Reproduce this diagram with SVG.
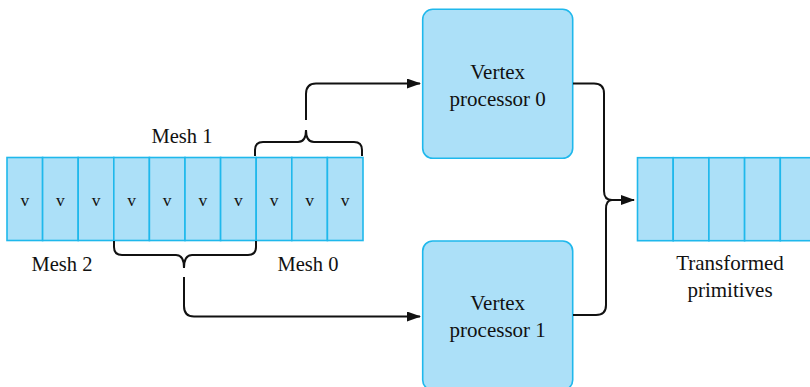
<svg xmlns="http://www.w3.org/2000/svg" width="810" height="387" viewBox="0 0 810 387">
<style>
.cell{fill:#ace0f8;stroke:#1fb8ec;stroke-width:1.6}
.box{fill:#ace0f8;stroke:#1fb8ec;stroke-width:1.6}
.t{font-family:'Liberation Serif','Times New Roman',serif;fill:#111;text-anchor:middle}
.lbl{font-size:20.5px}
.big{font-size:21px}
.v{font-size:17.5px}
.c{fill:none;stroke:#111;stroke-width:2}
</style>
<defs>
<marker id="ah" viewBox="0 0 14 10" refX="13" refY="5" markerWidth="14" markerHeight="10" markerUnits="userSpaceOnUse" orient="auto">
<path d="M0,0 L14,5 L0,10 Z" fill="#111"/>
</marker>
</defs>
<rect width="810" height="387" fill="#fff"/>
<g id="input-strip">
<rect class="cell" x="7" y="157.5" width="35.6" height="83"/>
<rect class="cell" x="42.6" y="157.5" width="35.6" height="83"/>
<rect class="cell" x="78.2" y="157.5" width="35.6" height="83"/>
<rect class="cell" x="113.8" y="157.5" width="35.6" height="83"/>
<rect class="cell" x="149.4" y="157.5" width="35.6" height="83"/>
<rect class="cell" x="185" y="157.5" width="35.6" height="83"/>
<rect class="cell" x="220.6" y="157.5" width="35.6" height="83"/>
<rect class="cell" x="256.2" y="157.5" width="35.6" height="83"/>
<rect class="cell" x="291.8" y="157.5" width="35.6" height="83"/>
<rect class="cell" x="327.4" y="157.5" width="35.6" height="83"/>
<text class="t v" x="24.8" y="206">v</text>
<text class="t v" x="60.4" y="206">v</text>
<text class="t v" x="96" y="206">v</text>
<text class="t v" x="131.6" y="206">v</text>
<text class="t v" x="167.2" y="206">v</text>
<text class="t v" x="202.8" y="206">v</text>
<text class="t v" x="238.4" y="206">v</text>
<text class="t v" x="274" y="206">v</text>
<text class="t v" x="309.6" y="206">v</text>
<text class="t v" x="345.2" y="206">v</text>
</g>
<g id="mesh-labels">
<text class="t lbl" x="182" y="143">Mesh 1</text>
<text class="t lbl" x="62" y="271">Mesh 2</text>
<text class="t lbl" x="308" y="271">Mesh 0</text>
</g>
<g id="vertex-processor-0">
<rect class="box" x="422.7" y="9.3" width="150" height="149" rx="10"/>
<text class="t big" x="497.7" y="79">Vertex</text>
<text class="t big" x="497.7" y="106">processor 0</text>
</g>
<g id="vertex-processor-1">
<rect class="box" x="422.7" y="241" width="150" height="149" rx="10"/>
<text class="t big" x="497.7" y="310">Vertex</text>
<text class="t big" x="497.7" y="337">processor 1</text>
</g>
<g id="output-strip">
<rect class="cell" x="637.5" y="157.7" width="35.7" height="83"/>
<rect class="cell" x="673.2" y="157.7" width="35.7" height="83"/>
<rect class="cell" x="708.9" y="157.7" width="35.7" height="83"/>
<rect class="cell" x="744.6" y="157.7" width="35.7" height="83"/>
<rect class="cell" x="780.3" y="157.7" width="35.7" height="83"/>
<text class="t big" x="730" y="270">Transformed</text>
<text class="t big" x="730" y="297">primitives</text>
</g>
<g id="connectors">
<path class="c" d="M255,156 V150 Q255,142 263,142 H298 Q306,142 306,130 Q306,142 314,142 H354 Q362,142 362,150 V156"/>
<path class="c" d="M114,241 V247 Q114,255 122,255 H176 Q184,255 184,268 Q184,255 192,255 H248 Q256,255 256,247 V241"/>
<path class="c" d="M306,120 V94 Q306,83.5 316,83.5 H420" marker-end="url(#ah)"/>
<path class="c" d="M184,277 V306 Q184,316.5 194,316.5 H420" marker-end="url(#ah)"/>
<path class="c" d="M573,83.5 H594 Q604,83.5 604,93.5 V191 Q604,200 612,200"/>
<path class="c" d="M573,315 H596 Q606,315 606,305 V209 Q606,200 612,200"/>
<path class="c" d="M610,200 H634" marker-end="url(#ah)"/>
</g>
</svg>
